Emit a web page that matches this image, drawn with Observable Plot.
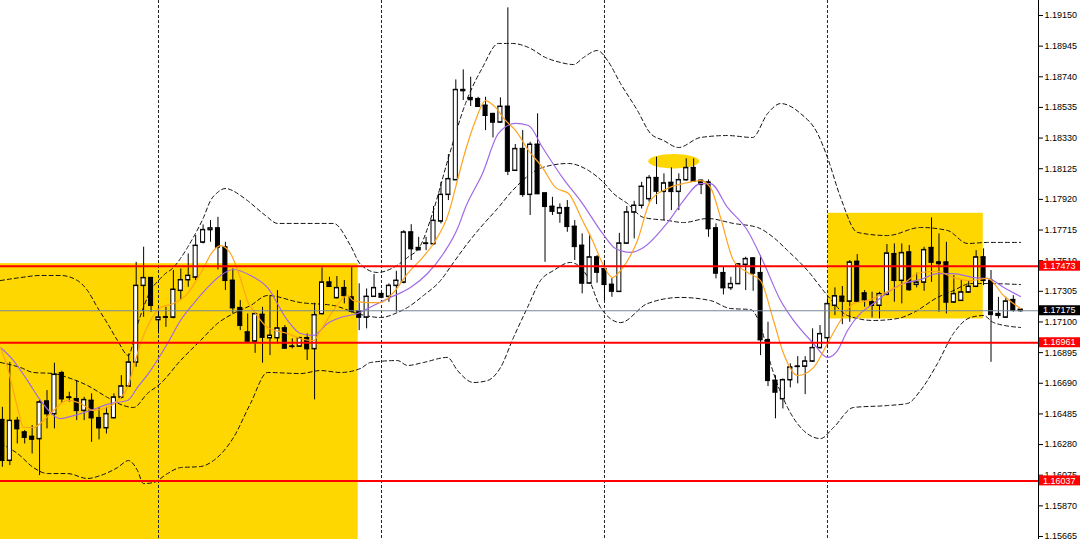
<!DOCTYPE html>
<html>
<head>
<meta charset="utf-8">
<script src="https://cdn.jsdelivr.net/npm/d3@7"></script>
<script src="https://cdn.jsdelivr.net/npm/@observablehq/plot@0.6"></script>
<style>
  html, body { margin: 0; padding: 0; background: #fff; overflow: hidden; }
  #chart svg { display: block; }
</style>
</head>
<body>
<div id="chart"></div>
<script>
// ---------- Candles (H4 bars, index 0..137) ----------
const open = [1.16445,1.16173,1.16440,1.16362,1.16333,1.16318,1.16569,1.16485,1.16759,1.16596,
1.16585,1.16507,1.16574,1.16458,1.16391,1.16458,1.16596,1.16670,1.16830,1.17343,
1.17395,1.17114,1.17131,1.17131,1.17310,1.17381,1.17399,1.17633,1.17716,1.17727,
1.17600,1.17377,1.17194,1.17031,1.16971,1.17149,1.16993,1.16993,1.17058,1.16937,
1.16937,1.16993,1.16920,1.17154,1.17365,1.17261,1.17328,1.17265,1.17171,1.17131,
1.17270,1.17288,1.17270,1.17343,1.17365,1.17700,1.17596,1.17626,1.17622,1.17774,
1.17952,1.18050,1.18653,1.18599,1.18592,1.18548,1.18492,1.18436,1.18541,1.18113,
1.18258,1.17952,1.18287,1.17961,1.17872,1.17827,1.17863,1.17738,1.17611,1.17359,
1.17533,1.17455,1.17350,1.17303,1.17626,1.17834,1.17879,1.17923,1.18064,1.17972,
1.18032,1.17972,1.18050,1.18131,1.18046,1.18034,1.17727,1.17428,1.17328,1.17355,
1.17484,1.17526,1.17428,1.16980,1.16708,1.16585,1.16712,1.16803,1.16803,1.16837,
1.16927,1.16993,1.17210,1.17270,1.17238,1.17504,1.17292,1.17232,1.17210,1.17283,
1.17555,1.17377,1.17566,1.17350,1.17365,1.17596,1.17499,1.17499,1.17232,1.17243,
1.17299,1.17337,1.17533,1.17377,1.17154,1.17131,1.17248,1.17183];

const high = [1.16529,1.16830,1.16462,1.16373,1.16407,1.16574,1.16641,1.16824,1.16770,1.16630,
1.16708,1.16596,1.16619,1.16529,1.16529,1.16619,1.16741,1.16886,1.17499,1.17600,
1.17397,1.17198,1.17198,1.17444,1.17455,1.17555,1.17678,1.17749,1.17778,1.17800,
1.17633,1.17455,1.17243,1.17154,1.17160,1.17198,1.17276,1.17310,1.17076,1.16987,
1.16998,1.17020,1.17225,1.17462,1.17399,1.17404,1.17377,1.17466,1.17355,1.17321,
1.17417,1.17292,1.17355,1.17439,1.17711,1.17751,1.17666,1.17666,1.17872,1.18034,
1.18220,1.18719,1.18786,1.18737,1.18603,1.18603,1.18496,1.18599,1.19201,1.18287,
1.18380,1.18302,1.18492,1.17961,1.17934,1.17890,1.17912,1.17778,1.17689,1.17689,
1.17544,1.17511,1.17390,1.17693,1.17872,1.17907,1.18034,1.18079,1.18202,1.18091,
1.18131,1.18091,1.18191,1.18191,1.18050,1.18050,1.17756,1.17466,1.17399,1.17489,
1.17533,1.17529,1.17544,1.17098,1.16741,1.16719,1.16820,1.16868,1.16868,1.17054,
1.17076,1.17254,1.17328,1.17337,1.17511,1.17551,1.17310,1.17299,1.17299,1.17618,
1.17622,1.17622,1.17611,1.17426,1.17600,1.17796,1.17689,1.17633,1.17410,1.17381,
1.17377,1.17577,1.17589,1.17444,1.17265,1.17265,1.17276,1.17188];

const low = [1.16128,1.16139,1.16284,1.16284,1.16217,1.16072,1.16385,1.16385,1.16556,1.16563,
1.16440,1.16440,1.16295,1.16311,1.16351,1.16452,1.16585,1.16663,1.16797,1.17131,
1.17165,1.17020,1.17064,1.17121,1.17243,1.17332,1.17377,1.17622,1.17633,1.17448,
1.17310,1.17154,1.17042,1.16964,1.16890,1.16824,1.16875,1.16953,1.16920,1.16920,
1.16931,1.16842,1.16579,1.17149,1.17332,1.17254,1.17221,1.17158,1.17042,1.17054,
1.17265,1.17256,1.17232,1.17165,1.17355,1.17511,1.17577,1.17577,1.17611,1.17756,
1.17912,1.18046,1.18581,1.18541,1.18536,1.18380,1.18331,1.18429,1.18079,1.18108,
1.17934,1.17812,1.17952,1.17499,1.17812,1.17760,1.17700,1.17511,1.17288,1.17355,
1.17359,1.17243,1.17265,1.17299,1.17622,1.17656,1.17856,1.17901,1.17885,1.17778,
1.17845,1.17845,1.18041,1.18034,1.17952,1.17666,1.17388,1.17281,1.17310,1.17350,
1.17310,1.17305,1.16875,1.16668,1.16452,1.16518,1.16659,1.16686,1.16614,1.16830,
1.16920,1.16931,1.17143,1.17082,1.17098,1.17232,1.17198,1.17127,1.17121,1.17276,
1.17232,1.17221,1.17305,1.17328,1.17305,1.17365,1.17165,1.17154,1.17225,1.17238,
1.17292,1.17332,1.17343,1.16830,1.17121,1.17127,1.17165,1.17165];

const close = [1.16173,1.16440,1.16385,1.16328,1.16315,1.16563,1.16485,1.16748,1.16585,1.16594,
1.16507,1.16579,1.16458,1.16391,1.16485,1.16596,1.16670,1.16830,1.17343,1.17395,
1.17210,1.17131,1.17133,1.17317,1.17381,1.17410,1.17611,1.17716,1.17727,1.17600,
1.17377,1.17194,1.17076,1.16971,1.17154,1.16997,1.17009,1.17058,1.16924,1.16935,
1.16993,1.16920,1.17147,1.17365,1.17337,1.17328,1.17276,1.17171,1.17131,1.17270,
1.17328,1.17265,1.17343,1.17377,1.17700,1.17589,1.17582,1.17624,1.17778,1.17952,
1.18057,1.18653,1.18646,1.18586,1.18541,1.18481,1.18436,1.18541,1.18108,1.18258,
1.17952,1.18287,1.17957,1.17872,1.17840,1.17863,1.17738,1.17604,1.17359,1.17533,
1.17432,1.17350,1.17305,1.17626,1.17834,1.17879,1.18006,1.18064,1.17974,1.18028,
1.17972,1.18050,1.18131,1.18041,1.18019,1.17723,1.17426,1.17328,1.17355,1.17487,
1.17522,1.17426,1.16980,1.16708,1.16630,1.16712,1.16797,1.16801,1.16837,1.16927,
1.17020,1.17221,1.17273,1.17238,1.17499,1.17238,1.17248,1.17210,1.17288,1.17559,
1.17377,1.17562,1.17315,1.17365,1.17582,1.17499,1.17489,1.17232,1.17288,1.17299,
1.17337,1.17533,1.17377,1.17149,1.17143,1.17238,1.17178,1.17175];

// ---------- Indicators (bar index, price) ----------
const upperBar = [-0.26,2.44,5.13,7.82,10.1,11.45,12.79,14.14,15.49,16.96,18.04,18.98,19.92,21.0,21.94,22.88,23.96,24.9,25.98,27.06,28.0,28.94,30.02,30.96,32.03,32.97,35.4,37.01,44.54,46.83,48.18,50.47,52.62,54.5,56.25,57.86,60.02,62.3,64.59,66.74,68.63,70.78,73.07,75.08,76.83,78.18,80.06,81.41,83.16,85.44,87.19,88.94,90.96,93.92,97.55,100.92,102.94,104.69,107.38,109.66,111.0,112.76,115.04,119.08,123.52,127.15,129.84,132.53,136.97];
const upperPrice = [1.17377,1.17397,1.17411,1.17411,1.17377,1.17310,1.17197,1.17090,1.16976,1.16876,1.17063,1.17197,1.17310,1.17377,1.17424,1.17458,1.17525,1.17598,1.17692,1.17799,1.17912,1.17966,1.17993,1.17979,1.17946,1.17912,1.17812,1.17759,1.17759,1.17611,1.17485,1.17431,1.17464,1.17531,1.17611,1.17826,1.18200,1.18561,1.18802,1.18963,1.18963,1.18936,1.18869,1.18836,1.18822,1.18869,1.18916,1.18849,1.18695,1.18514,1.18361,1.18314,1.18267,1.18334,1.18347,1.18334,1.18494,1.18561,1.18494,1.18361,1.18200,1.17933,1.17699,1.17678,1.17732,1.17712,1.17625,1.17632,1.17632];

const middleBar = [-0.26,2.44,4.18,6.87,8.76,11.45,14.14,16.29,17.64,19.52,21.27,23.96,26.65,28.94,31.09,33.38,35.67,40.1,44.54,48.18,50.87,53.15,54.5,56.65,58.94,60.69,62.57,64.32,66.61,68.63,72.66,76.16,78.85,80.87,82.22,84.1,86.25,89.48,91.63,94.86,98.36,101.59,103.74,105.63,108.32,111.0,113.7,117.19,120.42,122.58,125.8,127.95,130.24,132.53,136.97];
const middlePrice = [1.16829,1.16795,1.16762,1.16755,1.16729,1.16675,1.16595,1.16541,1.16528,1.16622,1.16688,1.16842,1.16976,1.17090,1.17157,1.17210,1.17277,1.17230,1.17210,1.17150,1.17130,1.17163,1.17197,1.17277,1.17377,1.17498,1.17625,1.17732,1.17859,1.17979,1.18133,1.18160,1.18113,1.18033,1.17959,1.17892,1.17799,1.17779,1.17765,1.17792,1.17759,1.17732,1.17665,1.17578,1.17444,1.17277,1.17143,1.17110,1.17123,1.17163,1.17264,1.17310,1.17357,1.17357,1.17350];

const lowerBar = [-0.26,2.03,4.18,6.07,8.76,11.45,13.2,15.49,16.96,18.18,18.98,20.33,22.21,23.96,26.65,28.4,31.09,33.38,35.67,40.1,42.8,45.49,48.18,49.52,53.15,54.5,56.65,59.88,61.23,63.38,65.26,67.01,68.76,70.64,72.39,74.14,76.43,78.85,80.47,83.16,86.79,91.23,95.27,97.96,100.65,101.99,103.34,105.63,107.78,110.06,111.81,114.5,119.08,121.77,123.52,125.8,127.95,130.24,131.99,133.34,136.97];
const lowerPrice = [1.16287,1.16220,1.16126,1.16086,1.16086,1.16053,1.16073,1.16126,1.16173,1.16106,1.16019,1.16026,1.16086,1.16126,1.16133,1.16173,1.16327,1.16555,1.16762,1.16755,1.16775,1.16762,1.16789,1.16829,1.16842,1.16809,1.16829,1.16863,1.16775,1.16695,1.16708,1.16795,1.16996,1.17197,1.17377,1.17444,1.17498,1.17391,1.17197,1.17096,1.17223,1.17264,1.17243,1.17190,1.17183,1.17076,1.16822,1.16528,1.16374,1.16320,1.16394,1.16528,1.16541,1.16555,1.16642,1.16822,1.17023,1.17130,1.17143,1.17096,1.17063];

const fastBar = [-0.26,0.69,2.03,2.84,4.18,5.53,6.87,8.76,10.51,12.26,14.14,15.49,16.83,17.64,18.58,19.92,21.27,23.02,24.9,26.65,28.4,29.34,30.69,32.03,33.11,33.78,35.67,38.36,40.1,41.85,42.8,44.54,46.43,47.23,49.12,50.87,52.62,54.5,56.52,58.27,60.02,60.96,62.3,63.65,64.99,66.34,67.68,69.03,70.78,72.66,74.41,76.16,78.04,79.39,80.74,82.08,83.16,85.44,87.19,89.48,91.63,93.92,95.27,96.61,98.36,100.24,101.99,103.74,105.09,106.97,109.12,111.0,112.76,114.5,116.39,119.08,121.23,123.52,125.8,127.95,130.24,132.53,134.68,136.97];
const fastPrice = [1.16929,1.16795,1.16528,1.16394,1.16394,1.16441,1.16508,1.16575,1.16555,1.16508,1.16528,1.16575,1.16662,1.16795,1.16956,1.17110,1.17197,1.17223,1.17290,1.17424,1.17578,1.17611,1.17558,1.17391,1.17223,1.17177,1.17063,1.17023,1.16989,1.16976,1.17043,1.17177,1.17277,1.17243,1.17230,1.17230,1.17297,1.17424,1.17531,1.17645,1.17826,1.17999,1.18247,1.18448,1.18581,1.18535,1.18448,1.18381,1.18247,1.18133,1.17999,1.17959,1.17779,1.17645,1.17491,1.17397,1.17444,1.17645,1.17912,1.17993,1.18026,1.18046,1.17999,1.17799,1.17511,1.17431,1.17377,1.17110,1.16889,1.16742,1.16795,1.16956,1.17110,1.17223,1.17243,1.17304,1.17357,1.17431,1.17438,1.17397,1.17377,1.17391,1.17277,1.17190];

const slowBar = [-0.26,1.49,3.38,5.13,7.82,9.57,11.85,14.54,16.83,18.18,19.92,22.21,23.96,25.71,27.59,29.34,31.09,33.38,35.67,38.36,40.1,41.85,43.74,45.49,47.77,49.93,52.21,54.9,57.19,59.34,61.23,62.3,64.59,66.74,69.03,70.78,72.66,75.35,78.04,80.74,82.49,84.5,86.25,89.48,91.63,93.92,95.27,97.55,100.24,102.4,104.69,106.43,109.12,111.0,112.35,113.7,115.44,117.19,119.08,121.23,123.52,125.8,127.95,130.65,132.53,134.95,136.97];
const slowPrice = [1.16929,1.16842,1.16708,1.16575,1.16454,1.16474,1.16508,1.16555,1.16575,1.16662,1.16775,1.16956,1.17110,1.17223,1.17330,1.17411,1.17451,1.17411,1.17330,1.17110,1.17023,1.17010,1.17090,1.17130,1.17157,1.17210,1.17264,1.17330,1.17424,1.17558,1.17725,1.17866,1.18093,1.18361,1.18428,1.18414,1.18267,1.18066,1.17892,1.17692,1.17591,1.17565,1.17598,1.17765,1.17912,1.18026,1.18026,1.17866,1.17712,1.17498,1.17243,1.17110,1.16956,1.16863,1.16909,1.17043,1.17157,1.17223,1.17297,1.17357,1.17384,1.17424,1.17424,1.17397,1.17391,1.17324,1.17270];

// ---------- Levels, separators, zones, axis ticks ----------
const redLevels = [1.17473, 1.16961, 1.16037];
const currentPrice = 1.17175;
const weekStarts = [21, 51, 81, 111];
const zoneFrom   = [-0.26, 111.05];
const zoneTo     = [47.87, 131.96];
const zoneTop    = [1.17490, 1.17827];
const zoneBottom = [1.15645, 1.17120];
const spotBar = 90.39, spotPrice = 1.18172, spotHalfBars = 3.43, spotHalfPrice = 0.00048;
const tickValues = [1.19150,1.18945,1.18740,1.18535,1.18330,1.18125,1.17920,1.17715,1.17510,1.17305,1.17100,1.16895,1.16690,1.16485,1.16280,1.16075,1.15870,1.15665];
const xDomain = [-0.256, 139.39];
const yDomain = [1.156449, 1.192503];

// ---------- Build tables ----------
const fmt = d3.format(".5f");
const candles = close.map((c, i) => ({i, open: open[i], high: high[i], low: low[i], close: c, up: c > open[i]}));
const zip = (b, p) => b.slice(0, Math.min(b.length, p.length)).map((x, k) => ({bar: x, price: p[k]}));
const upper = zip(upperBar, upperPrice);
const middle = zip(middleBar, middlePrice);
const lower = zip(lowerBar, lowerPrice);
const fast = zip(fastBar, fastPrice);
const slow = zip(slowBar, slowPrice);
const zones = zoneFrom.map((f, k) => ({x1: f, x2: zoneTo[k], y1: zoneBottom[k], y2: zoneTop[k]}));
const tags = [
  {price: redLevels[0], bg: "#ff0000"},
  {price: currentPrice, bg: "#000000"},
  {price: redLevels[1], bg: "#ff0000"},
  {price: redLevels[2], bg: "#ff0000"}
];
const spot = [{bar: spotBar, price: spotPrice}];

const band = (data) => Plot.line(data, {x: "bar", y: "price", stroke: "#111", strokeWidth: 1, strokeDasharray: "4,3", curve: "monotone-x"});

const chart = Plot.plot({
  width: 1080,
  height: 539,
  marginLeft: 0,
  marginRight: 42,
  marginTop: 0,
  marginBottom: 0,
  style: {background: "#ffffff", fontFamily: "'Liberation Sans', Arial, sans-serif", fontSize: "9px", color: "#000", overflow: "visible"},
  x: {type: "linear", domain: xDomain, axis: null},
  y: {type: "linear", domain: yDomain, axis: null},
  marks: [
    Plot.rect(zones, {x1: "x1", x2: "x2", y1: "y1", y2: "y2", fill: "#ffd700"}),
    Plot.dot(spot, {
      x: "bar", y: "price",
      render(index, scales, values) {
        const cx = values.x[0], cy = values.y[0];
        const rx = Math.abs(scales.x(spotBar + spotHalfBars) - scales.x(spotBar));
        const ry = Math.abs(scales.y(spotPrice + spotHalfPrice) - scales.y(spotPrice));
        const g = d3.create("svg:g");
        g.append("ellipse").attr("cx", cx).attr("cy", cy).attr("rx", rx).attr("ry", ry).attr("fill", "#ffd700");
        return g.node();
      }
    }),
    Plot.ruleX(weekStarts, {stroke: "#222", strokeWidth: 1, strokeDasharray: "3,2"}),
    band(upper),
    band(middle),
    band(lower),
    Plot.ruleX(candles, {x: "i", y1: "low", y2: "high", stroke: "#000", strokeWidth: 1}),
    Plot.rect(candles, {
      x1: d => d.i - 0.5, x2: d => d.i + 0.5, y1: "open", y2: "close",
      insetLeft: 1.7, insetRight: 1.7,
      fill: d => d.up ? "#ffffff" : "#000000", stroke: "#000", strokeWidth: 1
    }),
    Plot.ruleY(candles, {y: "open", x1: d => d.i - 0.5, x2: d => d.i + 0.5, insetLeft: 1.2, insetRight: 1.2, stroke: "#000"}),
    Plot.ruleY(candles, {y: "close", x1: d => d.i - 0.5, x2: d => d.i + 0.5, insetLeft: 1.2, insetRight: 1.2, stroke: "#000"}),
    Plot.line(slow, {x: "bar", y: "price", stroke: "#a06ae6", strokeWidth: 1.2, curve: "monotone-x"}),
    Plot.line(fast, {x: "bar", y: "price", stroke: "#ffa41c", strokeWidth: 1.2, curve: "monotone-x"}),
    Plot.ruleY([currentPrice], {stroke: "#778899", strokeWidth: 1}),
    Plot.ruleY(redLevels, {stroke: "#ff0000", strokeWidth: 2}),
    Plot.frame({anchor: "right", stroke: "#000"}),
    Plot.axisY(tickValues, {anchor: "right", tickFormat: fmt, tickSize: 4, tickPadding: 2, fontSize: 9, label: null, stroke: "#000", fill: "#000"}),
    Plot.dot(tags, {
      y: "price", frameAnchor: "right",
      render(index, scales, values, dimensions) {
        const x0 = dimensions.width - dimensions.marginRight;
        const g = d3.create("svg:g").attr("text-anchor", "start");
        for (const k of index) {
          const yy = values.y[k];
          g.append("rect").attr("x", x0 + 1).attr("y", yy - 5).attr("width", dimensions.marginRight - 1).attr("height", 10).attr("fill", tags[k].bg);
          g.append("text").attr("x", x0 + 5).attr("y", yy).attr("dy", "0.36em")
            .attr("text-anchor", "start")
            .attr("fill", "#ffffff").attr("font-size", 9).attr("font-family", "'Liberation Sans', Arial, sans-serif")
            .text(fmt(tags[k].price));
        }
        return g.node();
      }
    })
  ]
});

document.getElementById("chart").appendChild(chart);
</script>
</body>
</html>
